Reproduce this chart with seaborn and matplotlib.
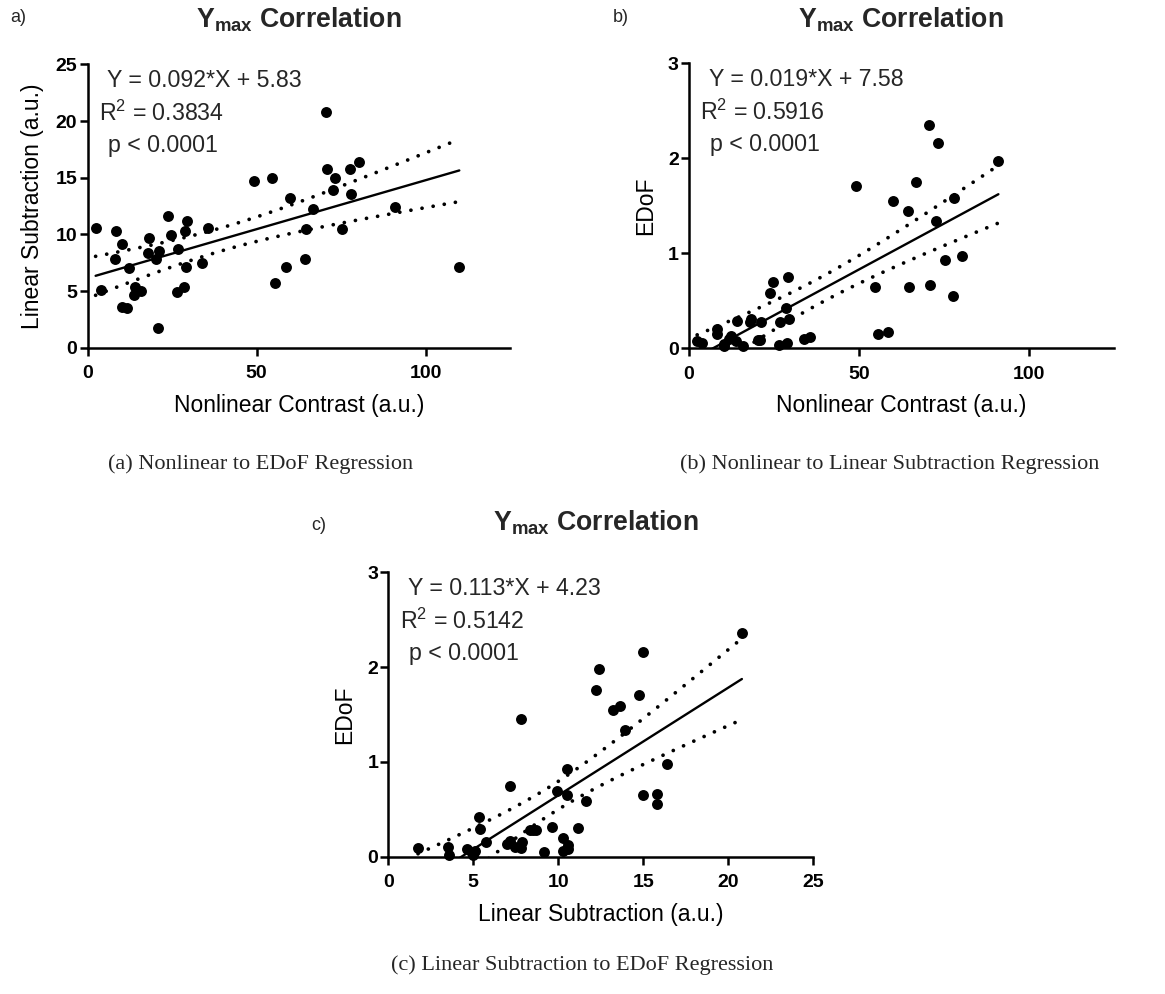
import numpy as np
import pandas as pd
import seaborn as sns
import matplotlib
matplotlib.use("Agg")
import matplotlib.pyplot as plt

# Per-sample Y_max measurements (a.u.); EDoF was not available for the last sample
nonlinear_contrast = [2.4, 3.9, 8.3, 8.2, 10.3, 10.2, 11.8, 12.4, 14.1, 13.8, 15.9,
                      18.2, 17.9, 20.8, 21.2, 20.3, 23.7, 24.7, 26.9, 26.6, 28.5, 28.9,
                      29.4, 29.1, 33.8, 35.6, 49.2, 54.6, 55.5, 58.6, 60.0, 64.4, 64.6,
                      66.8, 70.5, 70.8, 72.6, 73.2, 75.2, 77.7, 77.9, 80.2, 91.0, 110.0]
linear_subtraction = [10.55, 5.1, 10.3, 7.85, 9.15, 3.55, 3.5, 7.0, 5.4, 4.65, 5.0,
                      9.65, 8.35, 1.75, 8.5, 7.8, 11.6, 9.95, 8.7, 4.95, 5.35, 10.3,
                      11.15, 7.15, 7.45, 10.55, 14.75, 15.0, 5.75, 7.15, 13.2, 7.8, 10.5,
                      12.2, 20.8, 15.8, 13.9, 15.0, 10.5, 15.8, 13.6, 16.4, 12.4, 7.15]
edof = [0.08, 0.06, 0.2, 0.15, 0.05, 0.02, 0.1, 0.13, 0.29, 0.08, 0.02,
        0.31, 0.28, 0.09, 0.28, 0.09, 0.585, 0.695, 0.28, 0.04, 0.42, 0.06,
        0.305, 0.75, 0.1, 0.12, 1.71, 0.65, 0.155, 0.17, 1.55, 1.45, 0.65,
        1.755, 2.355, 0.665, 1.335, 2.16, 0.93, 0.555, 1.585, 0.975, 1.975, np.nan]

equations = ["Y = 0.092*X + 5.83", "Y = 0.019*X + 7.58", "Y = 0.113*X + 4.23"]
r_squared = ["0.3834", "0.5916", "0.5142"]
p_value = "p < 0.0001"
panel_letters = ["a)", "b)", "c)"]
captions = ["(a) Nonlinear to EDoF Regression",
            "(b) Nonlinear to Linear Subtraction Regression",
            "(c) Linear Subtraction to EDoF Regression"]

sns.set_theme(style="ticks")
plt.rcParams["font.family"] = ["Liberation Sans", "DejaVu Sans"]
plt.rcParams["mathtext.fontset"] = "custom"
plt.rcParams["mathtext.rm"] = "Liberation Sans"
plt.rcParams["mathtext.it"] = "Liberation Sans:italic"
plt.rcParams["mathtext.bf"] = "Liberation Sans:bold"

df = pd.DataFrame({"nc": nonlinear_contrast, "ls": linear_subtraction, "edof": edof})

W, H = 1165, 994
fig = plt.figure(figsize=(W / 100, H / 100), dpi=100)


def axes_px(left, right, top, bottom):
    return fig.add_axes([left / W, 1 - bottom / H, (right - left) / W, (bottom - top) / H])


def t_crit(dof):
    # two-sided 95% Student-t quantile (Cornish-Fisher expansion)
    z = 1.959964
    return (z + (z**3 + z) / (4 * dof) + (5 * z**5 + 16 * z**3 + 3 * z) / (96 * dof**2)
            + (3 * z**7 + 19 * z**5 + 17 * z**3 - 15 * z) / (384 * dof**3))


def panel(ax, xcol, ycol, xlim, xticks, ylim, yticks, xlabel, ylabel, eq, r2):
    d = df[[xcol, ycol]].dropna()
    sns.regplot(data=d, x=xcol, y=ycol, ax=ax, ci=None, color="black",
                scatter_kws=dict(s=62, linewidths=0, clip_on=False, zorder=3, alpha=1),
                line_kws=dict(lw=1.7, zorder=2))
    # 95% confidence band of the fitted line
    x = d[xcol].to_numpy()
    y = d[ycol].to_numpy()
    n = len(x)
    slope, icpt = np.polyfit(x, y, 1)
    resid = y - (slope * x + icpt)
    s = np.sqrt(np.sum(resid**2) / (n - 2))
    xm = x.mean()
    sxx = np.sum((x - xm) ** 2)
    xs = np.linspace(x.min(), x.max(), 200)
    yh = slope * xs + icpt
    half = t_crit(n - 2) * s * np.sqrt(1 / n + (xs - xm) ** 2 / sxx)
    for band in (yh + half, yh - half):
        ax.plot(xs, band, color="black", lw=2.7, linestyle=(0, (0.01, 3.0)),
                dash_capstyle="round", zorder=2)

    ax.set_xlim(*xlim)
    ax.set_ylim(*ylim)
    ax.set_xticks(xticks)
    ax.set_yticks(yticks)
    sns.despine(ax=ax)
    for sp in ("left", "bottom"):
        ax.spines[sp].set_linewidth(1.8)
        ax.spines[sp].set_color("black")
    ax.tick_params(direction="out", length=5.8, width=1.8, color="black",
                   labelsize=14, labelcolor="black")
    ax.tick_params(axis="x", pad=7)
    ax.tick_params(axis="y", pad=1.5)
    for lab in ax.get_xticklabels() + ax.get_yticklabels():
        lab.set_fontweight("bold")
    ax.set_xlabel(xlabel, fontsize=16.5, labelpad=8, color="black")
    ax.set_ylabel(ylabel, fontsize=16.5, labelpad=8, color="black")
    ax.set_facecolor("white")

    ax.text(0.047, 0.944, eq, transform=ax.transAxes, va="center", ha="left",
            fontsize=16.7)
    ax.text(0.027, 0.827, "R$^2$ = " + r2, transform=ax.transAxes, va="center",
            ha="left", fontsize=16.7)
    ax.text(0.049, 0.714, p_value, transform=ax.transAxes, va="center", ha="left",
            fontsize=16.7)


ax_a = axes_px(87.5, 510, 64.4, 347.7)
ax_b = axes_px(689, 1114, 63.3, 348.3)
ax_c = axes_px(388.3, 813.3, 572.3, 856.7)

panel(ax_a, "nc", "ls", (0, 125), [0, 50, 100], (0, 25), [0, 5, 10, 15, 20, 25],
      "Nonlinear Contrast (a.u.)", "Linear Subtraction (a.u.)", equations[0], r_squared[0])
panel(ax_b, "nc", "edof", (0, 125), [0, 50, 100], (0, 3), [0, 1, 2, 3],
      "Nonlinear Contrast (a.u.)", "EDoF", equations[1], r_squared[1])
panel(ax_c, "ls", "edof", (0, 25), [0, 5, 10, 15, 20, 25], (0, 3), [0, 1, 2, 3],
      "Linear Subtraction (a.u.)", "EDoF", equations[2], r_squared[2])

title = r"$\mathbf{Y_{max}}$ Correlation"
for (tx, ty), (lx, ly), txt in zip([(299, 20), (901, 20), (596, 523)],
                                   [(18, 18), (621, 18), (319, 526)], panel_letters):
    fig.text(tx / W, 1 - ty / H, title, ha="center", va="center", fontsize=19.2,
             fontweight="bold")
    fig.text(lx / W, 1 - ly / H, txt, ha="center", va="center", fontsize=13)

for (cx, cy), cap in zip([(261, 464), (890, 464), (582, 965)], captions):
    fig.text(cx / W, 1 - cy / H, cap, ha="center", va="center", fontsize=16,
             family="Liberation Serif")

fig.savefig("out.png", dpi=100, facecolor="white")
